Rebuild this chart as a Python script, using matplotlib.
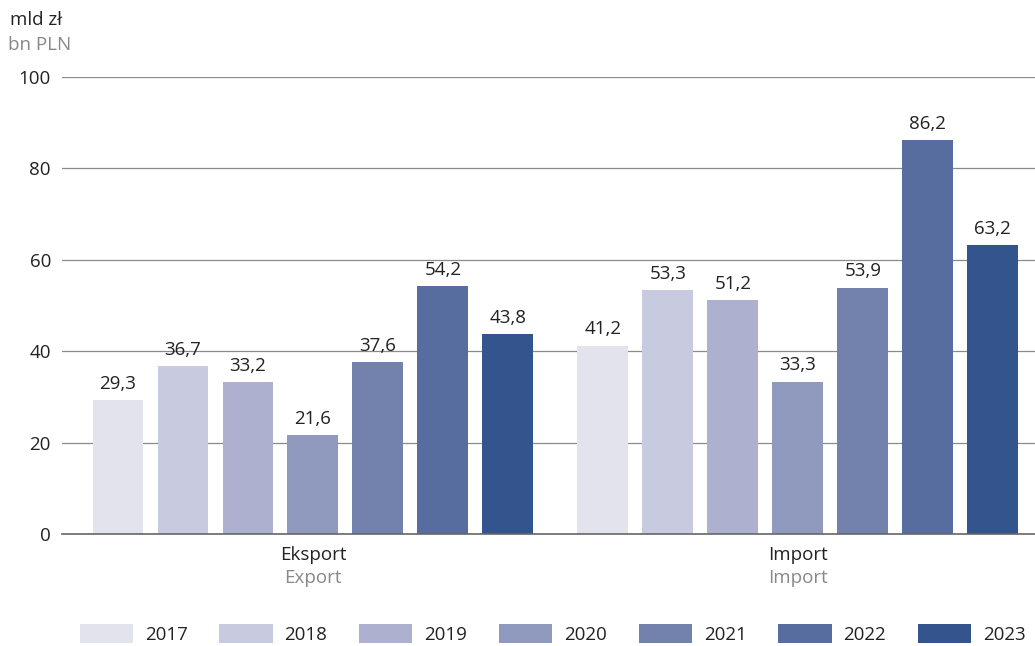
import matplotlib.pyplot as plt
import matplotlib.transforms as mtransforms
from matplotlib.patches import Patch
import numpy as np

plt.rcParams['font.family'] = ['Open Sans', 'DejaVu Sans']

years = ['2017', '2018', '2019', '2020', '2021', '2022', '2023']
groups_pl = ['Eksport', 'Import']
groups_en = ['Export', 'Import']
eksport = [29.3, 36.7, 33.2, 21.6, 37.6, 54.2, 43.8]
imp = [41.2, 53.3, 51.2, 33.3, 53.9, 86.2, 63.2]
colors = ['#e3e3ee', '#c8cadf', '#adb1cf', '#8f9abe', '#7282ad', '#586d9f', '#33548c']

fs = 13.5
fig = plt.figure(figsize=(10.35, 6.46), dpi=100)
ax = fig.add_axes([0.0599, 0.1734, 0.9401, 0.7074])

step = 0.134
width = 0.105
vals = np.array([eksport, imp])
for i, y in enumerate(years):
  xs = np.arange(2) + (i - 3) * step
  ax.bar(xs, vals[:, i], width=width, color=colors[i], zorder=3)
  for x, v in zip(xs, vals[:, i]):
    ax.text(x, v + 1.6, f'{v:.1f}'.replace('.', ','), ha='center', va='bottom',
            fontsize=fs, color='#222222', zorder=4)

ax.set_xlim(-0.5175, 1.489)
ax.set_ylim(0, 100)
ax.set_yticks([0, 20, 40, 60, 80, 100])
ax.grid(axis='y', color='#8a8a8a', linewidth=0.9, zorder=0)
ax.tick_params(axis='y', length=0, labelsize=fs, pad=8, labelcolor='#222222')
ax.tick_params(axis='x', length=0, labelbottom=False)
for s in ['top', 'right', 'left']:
  ax.spines[s].set_visible(False)
ax.spines['bottom'].set_color('#666666')
ax.spines['bottom'].set_linewidth(1.2)
ax.spines['bottom'].set_zorder(5)

trans = mtransforms.blended_transform_factory(ax.transData, fig.transFigure)
for k in range(2):
  ax.text(k, 1 - 555 / 646, groups_pl[k], transform=trans, ha='center', va='center',
          fontsize=fs, color='#222222')
  ax.text(k, 1 - 578 / 646, groups_en[k], transform=trans, ha='center', va='center',
          fontsize=fs, color='#888888')

fig.text(10 / 1035, 1 - 20 / 646, 'mld zł', ha='left', va='center', fontsize=fs, color='#222222')
fig.text(8 / 1035, 1 - 45 / 646, 'bn PLN', ha='left', va='center', fontsize=fs, color='#888888')

handles = [Patch(facecolor=c, edgecolor='none') for c in colors]
fig.legend(handles, years, loc='center', bbox_to_anchor=(0.534, 1 - 634 / 646), ncol=7,
           frameon=False, fontsize=fs, handlelength=2.83, handleheight=1.17,
           handletextpad=0.64, columnspacing=1.7, labelcolor='#222222')

fig.savefig('out.png', dpi=100)
